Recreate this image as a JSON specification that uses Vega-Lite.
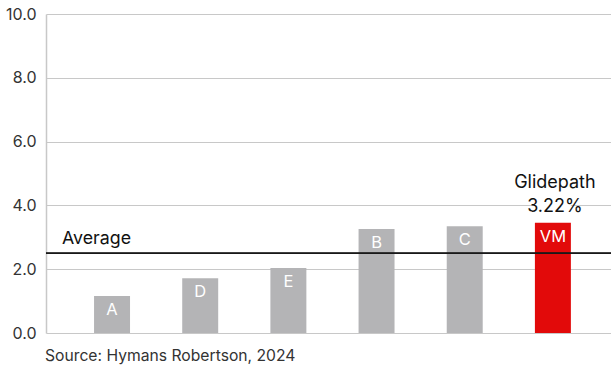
{
  "$schema": "https://vega.github.io/schema/vega-lite/v6.json",
  "width": 565,
  "height": 319,
  "autosize": "none",
  "padding": {"left": 46, "top": 14, "right": 0, "bottom": 35},
  "background": "white",
  "config": {
    "view": {"stroke": null},
    "font": "Inter",
    "title": {"font": "Inter"}
  },
  "title": {
    "text": "Source: Hymans Robertson, 2024",
    "orient": "bottom",
    "anchor": "start",
    "frame": "group",
    "offset": 8,
    "fontSize": 15.7,
    "fontWeight": "normal",
    "color": "#333333",
    "dx": -1
  },
  "data": {
    "values": [
      {"manager": "A", "value": 1.16, "highlight": false},
      {"manager": "D", "value": 1.72, "highlight": false},
      {"manager": "E", "value": 2.04, "highlight": false},
      {"manager": "B", "value": 3.26, "highlight": false},
      {"manager": "C", "value": 3.35, "highlight": false},
      {"manager": "VM", "value": 3.46, "highlight": true}
    ]
  },
  "resolve": {"scale": {"x": "shared"}},
  "layer": [
    {
      "mark": {"type": "bar", "color": "white"},
      "transform": [{"filter": "datum.manager === 'VM'"}],
      "encoding": {
        "x": {
          "field": "manager",
          "type": "nominal",
          "sort": ["A", "D", "E", "B", "C", "VM"],
          "scale": {"domain": ["A", "D", "E", "B", "C", "VM"], "paddingInner": 0.592, "paddingOuter": 0.5, "align": 0.545},
          "axis": null
        },
        "y": {"datum": 3.75, "type": "quantitative"},
        "y2": {"datum": 4.4},
        "width": {"band": 3.15}
      }
    },
    {
      "mark": {"type": "bar"},
      "encoding": {
        "x": {
          "field": "manager",
          "type": "nominal",
          "sort": ["A", "D", "E", "B", "C", "VM"],
          "axis": null
        },
        "y": {
          "field": "value",
          "type": "quantitative",
          "scale": {"domain": [0, 10], "nice": false},
          "axis": {
            "values": [0, 2, 4, 6, 8, 10],
            "format": ".1f",
            "title": null,
            "ticks": false,
            "labelPadding": 10,
            "labelFontSize": 16,
            "labelColor": "#333333",
            "labelFont": "Inter",
            "grid": true,
            "gridColor": "#c8c8c8",
            "gridWidth": 1,
            "domainColor": "#c8c8c8",
            "domainWidth": 1.5,
            "zindex": 0
          }
        },
        "color": {
          "field": "highlight",
          "type": "nominal",
          "scale": {"domain": [false, true], "range": ["#b4b4b6", "#e20a0a"]},
          "legend": null
        }
      }
    },
    {
      "mark": {"type": "text", "color": "white", "fontSize": 16.5, "baseline": "top", "dy": 6},
      "encoding": {
        "x": {"field": "manager", "type": "nominal", "sort": ["A", "D", "E", "B", "C", "VM"], "axis": null},
        "y": {"field": "value", "type": "quantitative"},
        "text": {"field": "manager"}
      }
    },
    {
      "mark": {"type": "rule", "color": "#1a1a1a", "strokeWidth": 1.2},
      "encoding": {
        "y": {"datum": 2.5, "type": "quantitative"}
      }
    },
    {
      "mark": {"type": "text", "color": "#111111", "fontSize": 17.8, "align": "left", "baseline": "alphabetic", "dx": -50, "dy": -9},
      "transform": [{"filter": "datum.manager === 'A'"}],
      "encoding": {
        "x": {"field": "manager", "type": "nominal", "sort": ["A", "D", "E", "B", "C", "VM"], "axis": null},
        "y": {"datum": 2.5, "type": "quantitative"},
        "text": {"value": "Average"}
      }
    },
    {
      "mark": {"type": "text", "color": "#111111", "fontSize": 18, "align": "center", "baseline": "alphabetic", "dy": -35, "dx": 2, "lineHeight": 24},
      "transform": [{"filter": "datum.manager === 'VM'"}],
      "encoding": {
        "x": {"field": "manager", "type": "nominal", "sort": ["A", "D", "E", "B", "C", "VM"], "axis": null},
        "y": {"field": "value", "type": "quantitative"},
        "text": {"value": ["Glidepath", "3.22%"]}
      }
    }
  ]
}
